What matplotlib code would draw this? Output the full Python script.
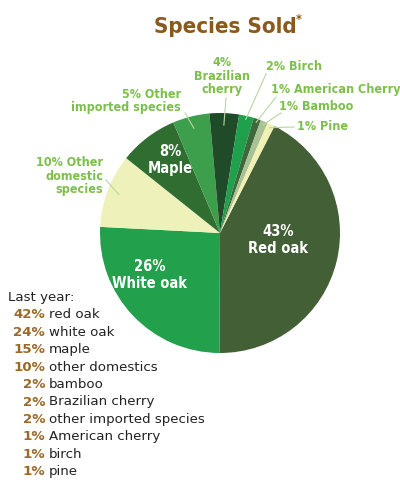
import matplotlib
matplotlib.use("Agg")
import matplotlib.pyplot as plt
import numpy as np

# species shares this year (clockwise from red oak)
species = ['Red oak', 'White oak', 'Other domestic species', 'Maple',
           'Other imported species', 'Brazilian cherry', 'Birch',
           'American Cherry', 'Bamboo', 'Pine']
shares = [43, 26, 10, 8, 5, 4, 2, 1, 1, 1]
colors = ['#435f36', '#23a04b', '#eef1b9', '#2f6d31', '#3d9e4c',
          '#1f4b29', '#1fa04d', '#3e6a3b', '#a9c194', '#f1f1b3']

# last year list
last_pct = ['42%', '24%', '15%', '10%', '2%', '2%', '2%', '1%', '1%', '1%']
last_names = ['red oak', 'white oak', 'maple', 'other domestics', 'bamboo',
              'Brazilian cherry', 'other imported species', 'American cherry',
              'birch', 'pine']

W, H = 400, 488
fig = plt.figure(figsize=(W / 100, H / 100), dpi=100)
cond = dict(family='DejaVu Sans', fontstretch='condensed', fontweight='bold')
light_green = '#7cc04b'
brown = '#8a5a1c'

# pie: centre (220, 233) px, radius 120 px
cx, cy, r = 220, 233, 120
pax = fig.add_axes([(cx - r) / W, (H - cy - r) / H, 2 * r / W, 2 * r / H])
wedges, _ = pax.pie(shares, colors=colors, startangle=63, counterclock=False,
                    radius=1, wedgeprops=dict(linewidth=0))
pax.set_xlim(-1, 1)
pax.set_ylim(-1, 1)
pax.set_aspect('equal')
pax.axis('off')

# overlay in pixel coords
ax = fig.add_axes([0, 0, 1, 1], zorder=5)
ax.set_xlim(0, W)
ax.set_ylim(H, 0)
ax.axis('off')

def edge_point(i, frac=0.92):
    w = wedges[i]
    a = np.deg2rad((w.theta1 + w.theta2) / 2)
    return cx + r * frac * np.cos(a), cy - r * frac * np.sin(a)

ax.text(225, 27, 'Species Sold', ha='center', va='center', fontsize=16,
        color=brown, **cond)
ax.text(296, 19, '*', ha='left', va='center', fontsize=9,
        color=brown, **cond)

# outside labels: (index, text, x, y, ha, leader start)
outside = [
    (5, '4%\nBrazilian\ncherry', 222, 76, 'center', (226, 98)),
    (6, '2% Birch', 266, 66, 'left', (266, 74)),
    (7, '1% American Cherry', 271, 90, 'left', (276, 97)),
    (8, '1% Bamboo', 279, 107, 'left', (281, 113)),
    (9, '1% Pine', 297, 127, 'left', (294, 127)),
    (4, '5% Other\nimported species', 181, 101, 'right', (185, 113)),
    (2, '10% Other\ndomestic\nspecies', 103, 176, 'right', (106, 180)),
]
for i, txt, x, y, ha, start in outside:
    ax.text(x, y, txt, ha=ha, va='center', fontsize=9,
            color=light_green, linespacing=1.1, **cond)
    ex, ey = edge_point(i, 0.9 if i in (2, 4, 5) else 0.97)
    ax.plot([start[0], ex], [start[1], ey], color='#b9d6a0', lw=0.8)

# inside labels
inside = [(0, 278, 240), (1, 150, 275), (3, 170, 160)]
for i, x, y in inside:
    ax.text(x, y, '%d%%\n%s' % (shares[i], species[i]), ha='center',
            va='center', fontsize=10.5, color='white',
            linespacing=1.15, **cond)

# last year block
ax.text(8, 298, 'Last year:', ha='left', va='center', fontsize=9.6,
        color='#222222')
for k, (p, n) in enumerate(zip(last_pct, last_names)):
    y = 315 + k * 17.4
    ax.text(45, y, p, ha='right', va='center', fontsize=9.6,
            fontweight='bold', color='#9a6a2a')
    ax.text(49, y, n, ha='left', va='center', fontsize=9.6, color='#222222')

fig.savefig('out.png', dpi=100)
